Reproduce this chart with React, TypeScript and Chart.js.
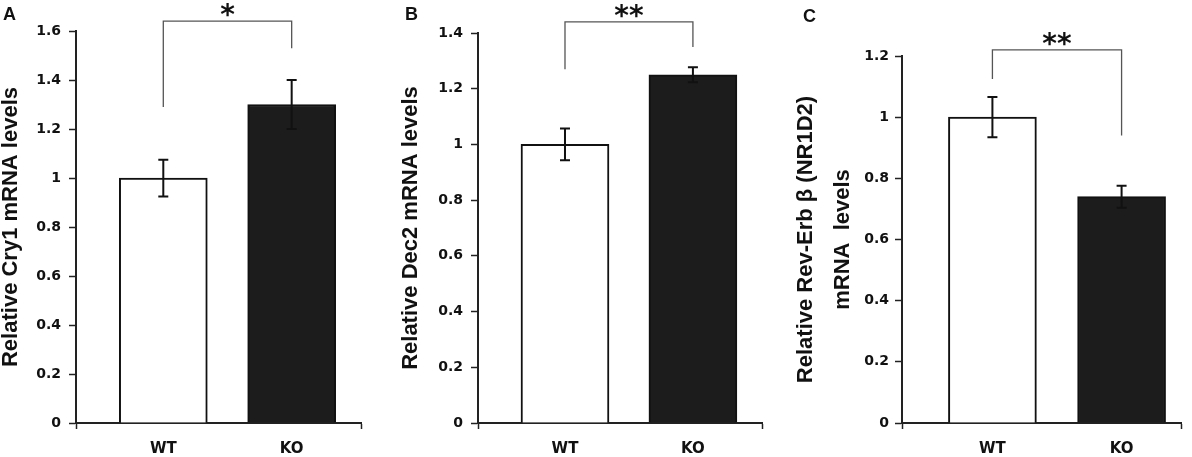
import { useEffect, useRef } from "react"
import { Chart, registerables } from "chart.js"

Chart.register(...registerables)

const categories = ["WT", "KO"]

// mean and error (SEM) per category
const cry1Means = [1.0, 1.3]
const cry1Errors = [0.075, 0.1]
const dec2Means = [1.0, 1.25]
const dec2Errors = [0.057, 0.027]
const nr1d2Means = [1.0, 0.74]
const nr1d2Errors = [0.066, 0.036]

// significance bracket: [top, WT leg end, KO leg end]
const cry1Bracket = [1.64, 1.29, 1.53]
const dec2Bracket = [1.44, 1.27, 1.35]
const nr1d2Bracket = [1.22, 1.125, 0.94]

const yMaxA = 1.6
const yMaxB = 1.4
const yMaxC = 1.2
const yStep = 0.2

// x range around the two category positions (1 and 2)
const xRangeAB = [0.32, 2.54]
const xRangeC = [0.3, 2.46]

const INK = "#111"
const TICK_FONT = "'DejaVu Sans', sans-serif"
const TITLE_FONT = "'Liberation Sans', Arial, sans-serif"

interface Panel {
  letter: string
  title: string | string[]
  means: number[]
  errors: number[]
  bracket: number[]
  stars: string
  yMax: number
  xRange: number[]
  left: number
  width: number
  axisWidth: number
  padLeft: number
  padTop: number
  padRight: number
  titleLineHeight: number
  tickPad: number
  letterX: number
  letterY: number
}

const panels: Panel[] = [
  {
    letter: "A", title: "Relative Cry1 mRNA levels", means: cry1Means, errors: cry1Errors,
    bracket: cry1Bracket, stars: "*", yMax: yMaxA, xRange: xRangeAB,
    left: 0, width: 380, axisWidth: 76, padLeft: 0, padTop: 31, padRight: 19,
    titleLineHeight: 1, tickPad: 8, letterX: 3, letterY: 20,
  },
  {
    letter: "B", title: "Relative Dec2 mRNA levels", means: dec2Means, errors: dec2Errors,
    bracket: dec2Bracket, stars: "**", yMax: yMaxB, xRange: xRangeAB,
    left: 400, width: 380, axisWidth: 78, padLeft: 0, padTop: 33, padRight: 18,
    titleLineHeight: 1, tickPad: 8, letterX: 5, letterY: 20,
  },
  {
    letter: "C", title: ["Relative Rev-Erb β (NR1D2)", "mRNA  levels"], means: nr1d2Means, errors: nr1d2Errors,
    bracket: nr1d2Bracket, stars: "**", yMax: yMaxC, xRange: xRangeC,
    left: 786, width: 406, axisWidth: 115, padLeft: 1, padTop: 56, padRight: 2,
    titleLineHeight: 37 / 22, tickPad: 6, letterX: 17, letterY: 22,
  },
]

// error bars, bracket with stars and the panel letter
const annotate = {
  id: "annotate",
  afterDatasetsDraw(chart: any, _args: any, opts: any) {
    const { ctx } = chart
    const meta = chart.getDatasetMeta(0)
    const y = chart.scales.y
    ctx.save()

    ctx.strokeStyle = INK
    ctx.lineWidth = 2
    meta.data.forEach((bar: any, i: number) => {
      const top = y.getPixelForValue(opts.means[i] + opts.errors[i])
      const bot = y.getPixelForValue(opts.means[i] - opts.errors[i])
      ctx.beginPath()
      ctx.moveTo(bar.x, top)
      ctx.lineTo(bar.x, bot)
      ctx.moveTo(bar.x - 5, top)
      ctx.lineTo(bar.x + 5, top)
      ctx.moveTo(bar.x - 5, bot)
      ctx.lineTo(bar.x + 5, bot)
      ctx.stroke()
    })

    const [b0, b1] = meta.data
    const [top, l, r] = opts.bracket
    const yt = y.getPixelForValue(top)
    ctx.strokeStyle = "#555"
    ctx.lineWidth = 1.3
    ctx.beginPath()
    ctx.moveTo(b0.x, y.getPixelForValue(l))
    ctx.lineTo(b0.x, yt)
    ctx.lineTo(b1.x, yt)
    ctx.lineTo(b1.x, y.getPixelForValue(r))
    ctx.stroke()

    ctx.fillStyle = INK
    ctx.font = `bold 28px ${TICK_FONT}`
    ctx.textAlign = "center"
    ctx.textBaseline = "alphabetic"
    const mt = ctx.measureText(opts.stars)
    const cy = yt - 11
    ctx.fillText(opts.stars, (b0.x + b1.x) / 2, cy + (mt.actualBoundingBoxAscent - mt.actualBoundingBoxDescent) / 2)

    ctx.font = `bold 18px ${TITLE_FONT}`
    ctx.textAlign = "left"
    ctx.fillText(opts.letter, opts.letterX, opts.letterY)
    ctx.restore()
  },
}

function BarPanel({ p }: { p: Panel }) {
  const chartRef = useRef<HTMLCanvasElement | null>(null)
  const chartInstance = useRef<Chart | null>(null)

  useEffect(() => {
    if (!chartRef.current) return
    if (chartInstance.current) chartInstance.current.destroy()
    const ctx = chartRef.current.getContext("2d")
    if (!ctx) return
    const [xMin, xMax] = p.xRange

    chartInstance.current = new Chart(ctx, {
      type: "bar",
      data: {
        datasets: [
          {
            data: categories.map((_, i) => ({ x: i + 1, y: p.means[i] })),
            backgroundColor: ["#ffffff", "#1c1c1c"],
            borderColor: INK,
            borderWidth: 2,
            borderSkipped: "start",
            barThickness: 88,
          },
        ],
      },
      plugins: [annotate],
      options: {
        animation: false,
        responsive: true,
        maintainAspectRatio: false,
        layout: { padding: { left: p.padLeft, top: p.padTop, right: p.padRight, bottom: 0 } },
        plugins: {
          legend: { display: false },
          tooltip: { enabled: false },
          annotate: {
            means: p.means,
            errors: p.errors,
            bracket: p.bracket,
            stars: p.stars,
            letter: p.letter,
            letterX: p.letterX,
            letterY: p.letterY,
          },
        } as any,
        scales: {
          x: {
            type: "linear",
            min: xMin,
            max: xMax,
            offset: false,
            afterBuildTicks: (s: any) => {
              s.ticks = [xMin, ...categories.map((_, i) => i + 1), xMax].map((value) => ({ value }))
            },
            afterFit: (s: any) => {
              s.height = 34
            },
            grid: {
              offset: false,
              drawOnChartArea: false,
              tickLength: 6,
              tickWidth: 1.5,
              tickColor: (c: any) => (c.tick && Number.isInteger(c.tick.value) ? "transparent" : "#222"),
            },
            border: { color: "#222", width: 2 },
            ticks: {
              autoSkip: false,
              maxRotation: 0,
              padding: 11,
              color: INK,
              font: { family: TICK_FONT, weight: "bold", size: 15 },
              callback: (v: any) => (Number.isInteger(v) ? categories[v - 1] : ""),
            },
          },
          y: {
            min: 0,
            max: p.yMax,
            afterFit: (s: any) => {
              s.width = p.axisWidth
            },
            grid: { drawOnChartArea: false, tickLength: 7, tickWidth: 1.5, tickColor: "#222" },
            border: { color: "#222", width: 2 },
            ticks: {
              stepSize: yStep,
              padding: p.tickPad,
              color: INK,
              font: { family: TICK_FONT, weight: "bold", size: 14 },
              callback: (v: any) => Number(v).toFixed(1).replace(/\.0$/, ""),
            },
            title: {
              display: true,
              text: p.title,
              color: INK,
              padding: 0,
              font: { family: TITLE_FONT, weight: "bold", size: 22, lineHeight: p.titleLineHeight },
            },
          },
        },
      },
    })

    return () => {
      if (chartInstance.current) {
        chartInstance.current.destroy()
        chartInstance.current = null
      }
    }
  }, [p])

  return (
    <div style={{ position: "absolute", left: p.left, top: 0, width: p.width, height: 457 }}>
      <canvas ref={chartRef} />
    </div>
  )
}

export default function App() {
  return (
    <div style={{ position: "absolute", left: 0, top: 0, width: 1192, height: 457, background: "#fff" }}>
      {panels.map((p) => (
        <BarPanel key={p.letter} p={p} />
      ))}
    </div>
  )
}
